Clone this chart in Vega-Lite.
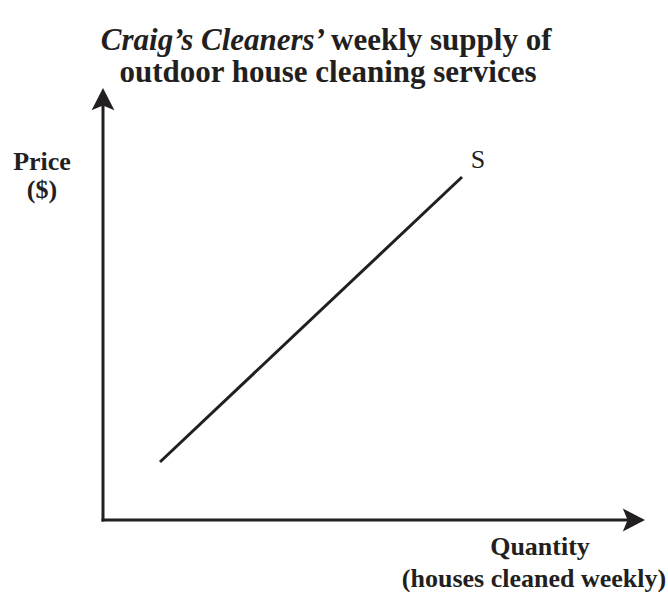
{
  "$schema": "https://vega.github.io/schema/vega-lite/v6.json",
  "width": 668,
  "height": 592,
  "padding": 0,
  "autosize": {"type": "fit", "contains": "padding"},
  "background": "white",
  "config": {"view": {"stroke": null}},
  "layer": [
    {
      "data": {"values": [
        {"axis": "quantity", "q0": 0, "p0": 0, "q1": 10.6, "p1": 0},
        {"axis": "price", "q0": 0, "p0": 0, "q1": 0, "p1": 8.4}
      ]},
      "mark": {"type": "rule", "stroke": "#231f20", "strokeWidth": 3, "strokeCap": "square"},
      "encoding": {
        "x": {"field": "q0", "type": "quantitative", "scale": {"domain": [-2.06, 11.3], "nice": false, "zero": false}, "axis": null},
        "y": {"field": "p0", "type": "quantitative", "scale": {"domain": [-1.44, 10.4], "nice": false, "zero": false}, "axis": null},
        "x2": {"field": "q1"},
        "y2": {"field": "p1"}
      }
    },
    {
      "data": {"values": [{"q": 10.84, "p": 0}]},
      "mark": {"type": "point", "filled": true, "fill": "#231f20", "strokeWidth": 0, "opacity": 1, "size": 576, "shape": "M0,0L-1.85,-0.95L-1.45,0L-1.85,0.95Z"},
      "encoding": {
        "x": {"field": "q", "type": "quantitative"},
        "y": {"field": "p", "type": "quantitative"}
      }
    },
    {
      "data": {"values": [{"q": 0, "p": 8.64}]},
      "mark": {"type": "point", "filled": true, "fill": "#231f20", "strokeWidth": 0, "opacity": 1, "size": 576, "shape": "M0,0L-0.95,1.85L0,1.45L0.95,1.85Z"},
      "encoding": {
        "x": {"field": "q", "type": "quantitative"},
        "y": {"field": "p", "type": "quantitative"}
      }
    },
    {
      "data": {"values": [
        {"curve": "S", "q": 1.14, "p": 1.16},
        {"curve": "S", "q": 7.18, "p": 6.86}
      ]},
      "mark": {"type": "line", "stroke": "#231f20", "strokeWidth": 3},
      "encoding": {
        "x": {"field": "q", "type": "quantitative"},
        "y": {"field": "p", "type": "quantitative"}
      }
    },
    {
      "data": {"values": [{"label": "S", "q": 7.5, "p": 7.04}]},
      "mark": {"type": "text", "font": "Liberation Serif", "fontSize": 26, "fontWeight": "normal", "fill": "#231f20", "align": "center", "baseline": "alphabetic"},
      "encoding": {
        "x": {"field": "q", "type": "quantitative"},
        "y": {"field": "p", "type": "quantitative"},
        "text": {"field": "label"}
      }
    },
    {
      "data": {"values": [
        {"label": "Price", "q": -1.22, "p": 7.0},
        {"label": "($)", "q": -1.22, "p": 6.44},
        {"label": "Quantity", "q": 8.74, "p": -0.7},
        {"label": "(houses cleaned weekly)", "q": 8.62, "p": -1.34}
      ]},
      "mark": {"type": "text", "font": "Liberation Serif", "fontSize": 26, "fontWeight": "bold", "fill": "#231f20", "align": "center", "baseline": "alphabetic"},
      "encoding": {
        "x": {"field": "q", "type": "quantitative"},
        "y": {"field": "p", "type": "quantitative"},
        "text": {"field": "label"}
      }
    },
    {
      "data": {"values": [
        {"label": "outdoor house cleaning services", "q": 4.5, "p": 8.76}
      ]},
      "mark": {"type": "text", "font": "Liberation Serif", "fontSize": 31, "fontWeight": "bold", "fill": "#231f20", "align": "center", "baseline": "alphabetic"},
      "encoding": {
        "x": {"field": "q", "type": "quantitative"},
        "y": {"field": "p", "type": "quantitative"},
        "text": {"field": "label"}
      }
    },
    {
      "data": {"values": [{"label": "Craig’s Cleaners’", "q": 4.44, "p": 9.4}]},
      "mark": {"type": "text", "font": "Liberation Serif", "fontSize": 31, "fontWeight": "bold", "fontStyle": "italic", "fill": "#231f20", "align": "right", "baseline": "alphabetic"},
      "encoding": {
        "x": {"field": "q", "type": "quantitative"},
        "y": {"field": "p", "type": "quantitative"},
        "text": {"field": "label"}
      }
    },
    {
      "data": {"values": [{"label": "weekly supply of", "q": 4.56, "p": 9.4}]},
      "mark": {"type": "text", "font": "Liberation Serif", "fontSize": 31, "fontWeight": "bold", "fill": "#231f20", "align": "left", "baseline": "alphabetic"},
      "encoding": {
        "x": {"field": "q", "type": "quantitative"},
        "y": {"field": "p", "type": "quantitative"},
        "text": {"field": "label"}
      }
    }
  ]
}
